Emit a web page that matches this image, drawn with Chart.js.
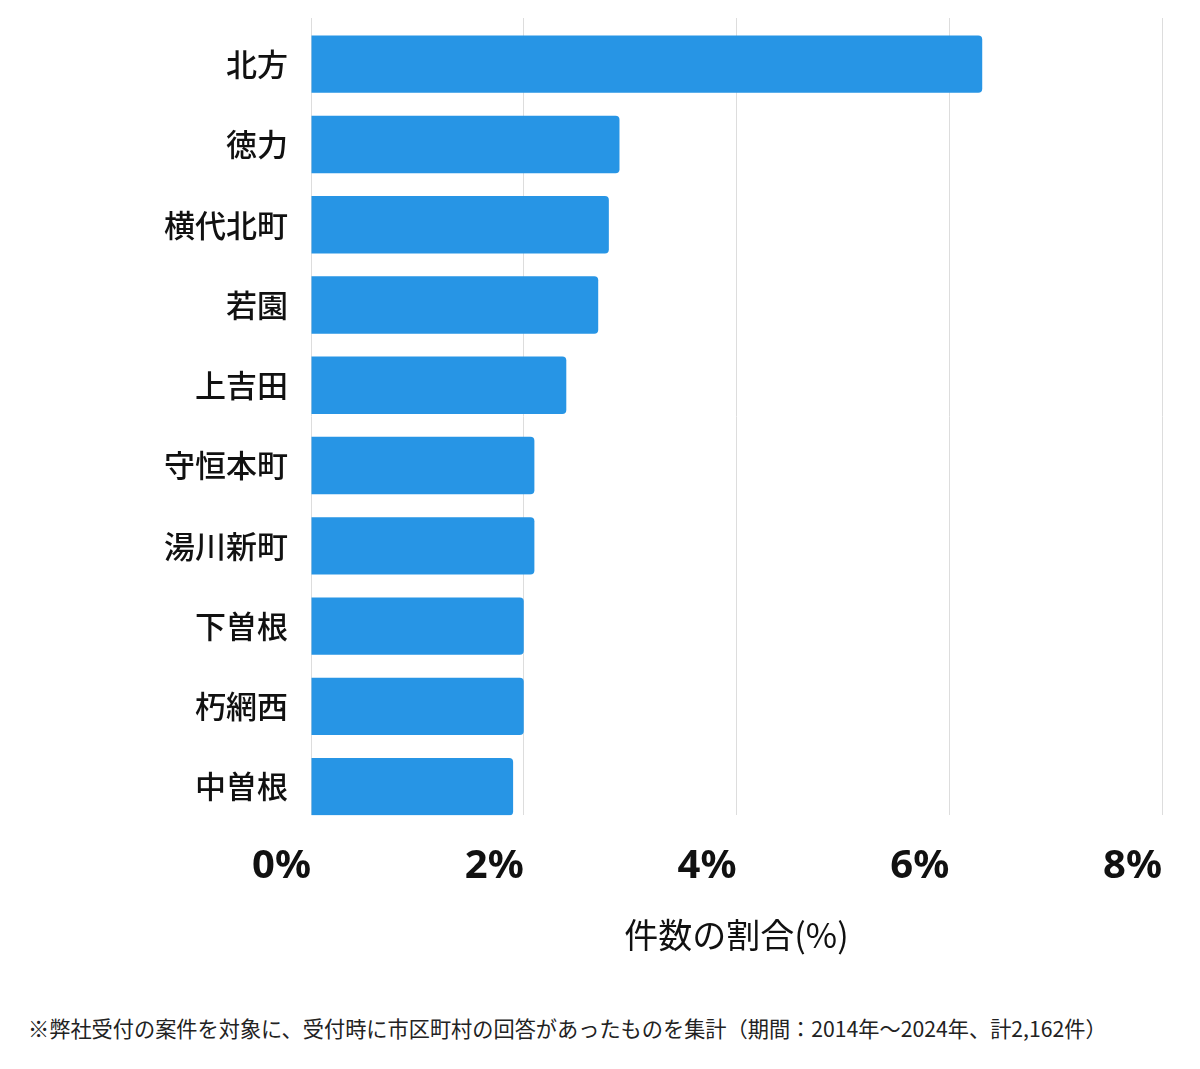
<!DOCTYPE html>
<html lang="ja">
<head>
<meta charset="utf-8">
<title>件数の割合</title>
<script src="https://cdn.jsdelivr.net/npm/chart.js@4.4.1/dist/chart.umd.min.js"></script>
<style>
    html, body { margin: 0; padding: 0; background: #fff; }
    #wrap { position: relative; width: 1200px; height: 1069px; }
    #chart-box { position: absolute; left: 0; top: 0; width: 1200px; height: 962px; }
    #note {
        position: absolute; left: 28px; top: 1012px;
        font-family: "Noto Sans CJK JP", "Noto Sans", sans-serif;
        font-size: 21.2px; color: #222; white-space: nowrap;
    }
</style>
</head>
<body>
<div id="wrap">
    <div id="chart-box"><canvas id="ratioChart"></canvas></div>
    <div id="note">※弊社受付の案件を対象に、受付時に市区町村の回答があったものを集計（期間：2014年～2024年、計2,162件）</div>
</div>
<script>
const areas = ['北方', '徳力', '横代北町', '若園', '上吉田', '守恒本町', '湯川新町', '下曽根', '朽網西', '中曽根'];
const ratios = [6.31, 2.9, 2.8, 2.7, 2.4, 2.1, 2.1, 2.0, 2.0, 1.9];
const xTicks = [0, 2, 4, 6, 8];

// bars sit on a linear index axis so the rows can be placed like the original
const points = ratios.map((v, i) => ({ x: v, y: i }));

const ctx = document.getElementById('ratioChart').getContext('2d');

new Chart(ctx, {
    type: 'bar',
    data: {
        datasets: [{
            data: points,
            backgroundColor: '#2795e5',
            borderWidth: 0,
            borderRadius: 4,
            borderSkipped: 'start',
            barPercentage: 0.715,
            categoryPercentage: 1
        }]
    },
    options: {
        indexAxis: 'y',
        responsive: true,
        maintainAspectRatio: false,
        animation: false,
        layout: {
            padding: { top: 18, right: 38, bottom: 7, left: 0 }
        },
        plugins: {
            legend: { display: false },
            tooltip: { enabled: false }
        },
        scales: {
            x: {
                type: 'linear',
                min: 0,
                max: 8,
                afterBuildTicks: function(axis) {
                    axis.ticks = xTicks.map(v => ({ value: v }));
                },
                grid: {
                    color: '#dddddd',
                    lineWidth: 1,
                    drawTicks: false
                },
                border: { display: false },
                ticks: {
                    align: 'end',
                    padding: 27,
                    color: '#111',
                    font: { family: '"Noto Sans", sans-serif', size: 40, weight: 'bold' },
                    callback: function(value) {
                        return value + '%';
                    }
                },
                title: {
                    display: true,
                    text: '件数の割合(%)',
                    color: '#111',
                    padding: { top: -3, bottom: 0 },
                    font: { family: '"Noto Sans CJK JP", sans-serif', size: 34 }
                }
            },
            y: {
                type: 'linear',
                reverse: true,
                offset: false,
                min: -0.575,
                max: 9.355,
                afterBuildTicks: function(axis) {
                    axis.ticks = areas.map((a, i) => ({ value: i }));
                },
                afterFit: function(axis) {
                    axis.width = 311;
                    axis.paddingTop = 0;
                    axis.paddingBottom = 0;
                },
                grid: { display: false, drawTicks: false },
                border: { display: false },
                ticks: {
                    padding: 23,
                    color: '#111',
                    font: { family: '"Noto Sans CJK JP", sans-serif', size: 31, weight: 500 },
                    callback: function(value) {
                        return areas[value];
                    }
                }
            }
        }
    }
});
</script>
</body>
</html>
